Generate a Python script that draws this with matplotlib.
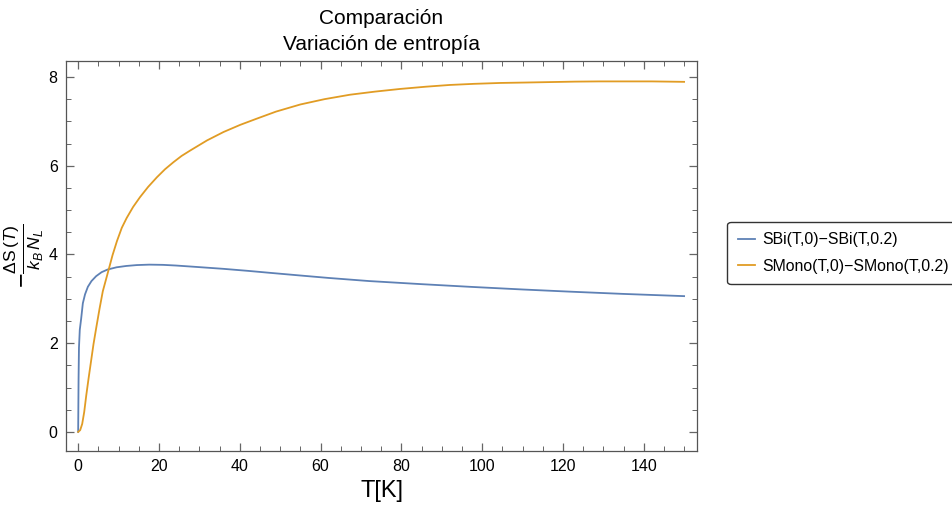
import matplotlib
matplotlib.use("Agg")
import matplotlib.pyplot as plt
from matplotlib.ticker import MultipleLocator

plt.rcParams['font.family'] = ['Liberation Sans', 'DejaVu Sans']
plt.rcParams['mathtext.fontset'] = 'custom'
plt.rcParams['mathtext.rm'] = 'Liberation Sans'
plt.rcParams['mathtext.it'] = 'Liberation Sans:italic'

# datos
t_bi = [0, 0.1, 0.2, 0.4, 0.74, 1.16, 1.7, 2.4, 3.3, 4.45, 5.8, 7.3, 9.5,
        11.9, 14.5, 17.6, 21, 24.2, 29, 36, 42, 47.5, 55, 62, 72, 85, 97,
        110, 122, 135, 150]
s_bi = [0, 1.2, 1.9, 2.3, 2.55, 2.9, 3.1, 3.27, 3.4, 3.51, 3.6, 3.66, 3.71,
        3.74, 3.76, 3.77, 3.765, 3.75, 3.72, 3.675, 3.63, 3.585, 3.525, 3.47,
        3.40, 3.33, 3.27, 3.21, 3.16, 3.11, 3.06]

t_mono = [0, 0.5, 1, 1.5, 2, 2.6, 3.2, 3.8, 4.5, 5.3, 6.1, 7.5, 8.5, 9.6,
          10.8, 12, 13.6, 15.3, 17.3, 19.5, 21.5, 23.6, 25.6, 27.7, 31.9, 36,
          40.1, 44.2, 49, 55, 61, 67.3, 73.5, 79.7, 86, 92, 98, 104.5, 111,
          117, 123, 129, 135, 142, 150]
s_mono = [0, 0.04, 0.18, 0.45, 0.82, 1.22, 1.6, 1.98, 2.36, 2.78, 3.17,
          3.64, 3.98, 4.3, 4.6, 4.82, 5.07, 5.29, 5.52, 5.74, 5.92, 6.08,
          6.22, 6.34, 6.57, 6.76, 6.92, 7.06, 7.22, 7.38, 7.5, 7.6, 7.67,
          7.73, 7.78, 7.82, 7.845, 7.865, 7.875, 7.885, 7.895, 7.9, 7.9, 7.9,
          7.89]

labels = ['SBi(T,0)\u2212SBi(T,0.2)', 'SMono(T,0)\u2212SMono(T,0.2)']

fig = plt.figure(figsize=(9.53, 5.07), dpi=100)
ax = fig.add_axes([0.0693, 0.1105, 0.6621, 0.7692])

ax.plot(t_bi, s_bi, color='#5E81B5', lw=1.3, label=labels[0])
ax.plot(t_mono, s_mono, color='#E19C24', lw=1.3, label=labels[1])

ax.set_xlim(-3, 153.2)
ax.set_ylim(-0.43, 8.36)
ax.xaxis.set_major_locator(MultipleLocator(20))
ax.xaxis.set_minor_locator(MultipleLocator(5))
ax.yaxis.set_major_locator(MultipleLocator(2))
ax.yaxis.set_minor_locator(MultipleLocator(0.5))
ax.tick_params(which='both', direction='in', top=True, right=True,
               color='#666666', labelsize=11.5, pad=6)
ax.tick_params(which='major', length=6, width=0.9)
ax.tick_params(which='minor', length=3.5, width=0.7)
for sp in ax.spines.values():
    sp.set_color('#555555')
    sp.set_linewidth(0.9)

ax.set_title('Comparación\nVariación de entropía', fontsize=15, pad=8,
             linespacing=1.45)
ax.set_xlabel('T[K]', fontsize=17, labelpad=4)
ax.set_ylabel(r'$-\frac{\Delta \mathrm{S}\,(T)}{k_B\,N_L}$', fontsize=18,
              labelpad=2)

leg = fig.legend(loc='center left', bbox_to_anchor=(0.7566, 0.501),
                 fontsize=11.4, frameon=True, fancybox=True,
                 handlelength=1.08, handletextpad=0.45, borderpad=0.65,
                 labelspacing=0.75, borderaxespad=0.4)
leg.get_frame().set_edgecolor('black')
leg.get_frame().set_linewidth(1.0)

fig.savefig('out.png', dpi=100)
